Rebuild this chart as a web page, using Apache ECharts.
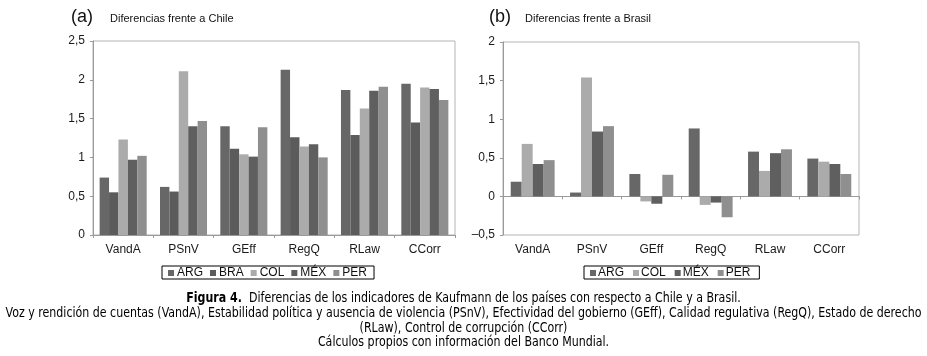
<!DOCTYPE html>
<html>
<head>
<meta charset="utf-8">
<script src="https://cdn.jsdelivr.net/npm/echarts@6/dist/echarts.min.js"></script>
<style>
html,body{margin:0;padding:0;background:#fff;}
#main{width:927px;height:356px;}
</style>
</head>
<body>
<div id="main"></div>
<script>
// indicadores de Kaufmann
var categorias = ['VandA', 'PSnV', 'GEff', 'RegQ', 'RLaw', 'CCorr'];

// (a) diferencias frente a Chile
var chileARG = [0.74, 0.62, 1.40, 2.13, 1.87, 1.95];
var chileBRA = [0.55, 0.56, 1.11, 1.26, 1.29, 1.45];
var chileCOL = [1.23, 2.11, 1.04, 1.14, 1.63, 1.90];
var chileMEX = [0.97, 1.40, 1.01, 1.17, 1.86, 1.88];
var chilePER = [1.02, 1.47, 1.39, 1.00, 1.91, 1.74];

// (b) diferencias frente a Brasil
var brasilARG = [0.19, 0.05, 0.29, 0.88, 0.58, 0.49];
var brasilCOL = [0.68, 1.54, -0.065, -0.11, 0.33, 0.45];
var brasilMEX = [0.42, 0.84, -0.095, -0.08, 0.56, 0.42];
var brasilPER = [0.47, 0.91, 0.28, -0.27, 0.61, 0.29];

var ticksA = [0, 0.5, 1, 1.5, 2, 2.5];
var ticksB = [-0.5, 0, 0.5, 1, 1.5, 2];

var colores = {ARG: '#676767', BRA: '#5b5b5b', COL: '#ababab', 'MÉX': '#5f5f5f', PER: '#8f8f8f'};
var fuente = 'Liberation Sans, Arial, sans-serif';
var fuenteNota = 'DejaVu Sans Condensed, DejaVu Sans, sans-serif';

function coma(v) {
    var s = String(v).replace('.', ',');
    return s.replace('-', '\u2013');
}

function barra(nombre, datos, idx) {
    return {
        name: nombre,
        type: 'bar',
        xAxisIndex: idx,
        yAxisIndex: idx,
        data: datos,
        barGap: '0%',
        barCategoryGap: idx == 0 ? '22%' : '26%',
        itemStyle: {color: colores[nombre]},
        animation: false
    };
}

function ejeX(idx) {
    return {
        type: 'category',
        gridIndex: idx,
        data: categorias,
        axisLine: {onZero: true, lineStyle: {color: '#9a9a9a', width: 1}},
        axisTick: {show: true, length: 3, lineStyle: {color: '#9a9a9a'}},
        axisLabel: {color: '#1a1a1a', fontFamily: fuente, fontSize: 12, margin: 9},
        splitLine: {show: false}
    };
}

function ejeY(idx, ticks) {
    return {
        type: 'value',
        gridIndex: idx,
        min: ticks[0],
        max: ticks[ticks.length - 1],
        interval: 0.5,
        axisLine: {show: true, lineStyle: {color: '#9a9a9a'}},
        axisTick: {show: true, length: 3, lineStyle: {color: '#9a9a9a'}},
        axisLabel: {color: '#1a1a1a', fontFamily: fuente, fontSize: 12, margin: 8, formatter: coma},
        splitLine: {show: false}
    };
}

function nota(y, texto, rich) {
    var st = {text: texto, fontSize: 14, fontFamily: fuenteNota, fill: '#000',
              textAlign: 'center', textVerticalAlign: 'middle'};
    if (rich) st.rich = rich;
    return {type: 'text', x: 463.5, y: y, scaleX: 0.877, style: st};
}

var myChart = echarts.init(document.getElementById('main'));
myChart.setOption({
    backgroundColor: '#fff',
    textStyle: {fontFamily: fuente},
    title: [
        {text: '(a)', left: 66, top: 3, textStyle: {fontSize: 18, fontWeight: 'normal', color: '#111', fontFamily: fuente}},
        {text: 'Diferencias frente a Chile', left: 105, top: 8, textStyle: {fontSize: 11, fontWeight: 'normal', color: '#111', fontFamily: fuente}},
        {text: '(b)', left: 484, top: 3, textStyle: {fontSize: 18, fontWeight: 'normal', color: '#111', fontFamily: fuente}},
        {text: 'Diferencias frente a Brasil', left: 520, top: 8, textStyle: {fontSize: 11, fontWeight: 'normal', color: '#111', fontFamily: fuente}}
    ],
    legend: [
        {
            data: ['ARG', 'BRA', 'COL', 'MÉX', 'PER'],
            left: 162, top: 266,
            icon: 'rect', itemWidth: 6, itemHeight: 6, itemGap: 7,
            padding: [1, 7, 0, 6],
            borderColor: '#000', borderWidth: 1,
            textStyle: {fontSize: 12, color: '#111', fontFamily: fuente, padding: [0, 0, 0, -2]}
        },
        {
            data: ['ARG', 'COL', 'MÉX', 'PER'],
            left: 584, top: 266,
            icon: 'rect', itemWidth: 6, itemHeight: 6, itemGap: 9,
            padding: [1, 9, 0, 6],
            borderColor: '#000', borderWidth: 1,
            textStyle: {fontSize: 12, color: '#111', fontFamily: fuente, padding: [0, 0, 0, -3]}
        }
    ],
    grid: [
        {left: 93, width: 362, top: 41, height: 194, show: true, borderColor: '#b5b5b5', borderWidth: 1},
        {left: 503, width: 356, top: 42, height: 193, show: true, borderColor: '#b5b5b5', borderWidth: 1}
    ],
    xAxis: [ejeX(0), ejeX(1)],
    yAxis: [ejeY(0, ticksA), ejeY(1, ticksB)],
    series: [
        barra('ARG', chileARG, 0),
        barra('BRA', chileBRA, 0),
        barra('COL', chileCOL, 0),
        barra('MÉX', chileMEX, 0),
        barra('PER', chilePER, 0),
        barra('ARG', brasilARG, 1),
        barra('COL', brasilCOL, 1),
        barra('MÉX', brasilMEX, 1),
        barra('PER', brasilPER, 1)
    ],
    graphic: [
        nota(298, '{b|Figura 4.}{n|  Diferencias de los indicadores de Kaufmann de los países con respecto a Chile y a Brasil.}', {
            b: {fontWeight: 'bold', fontSize: 14, fontFamily: fuenteNota, fill: '#000'},
            n: {fontSize: 14, fontFamily: fuenteNota, fill: '#000'}
        }),
        nota(313, 'Voz y rendición de cuentas (VandA), Estabilidad política y ausencia de violencia (PSnV), Efectividad del gobierno (GEff), Calidad regulativa (RegQ), Estado de derecho'),
        nota(328, '(RLaw), Control de corrupción (CCorr)'),
        nota(342, 'Cálculos propios con información del Banco Mundial.')
    ]
});
</script>
</body>
</html>
